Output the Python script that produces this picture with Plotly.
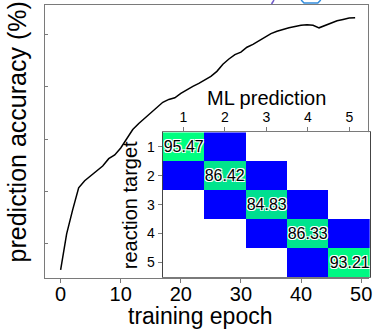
import plotly.graph_objects as go

# ---- data ----
epochs = list(range(50))
accuracy = [0.1, 13.8, 23.0, 31.4, 34.1, 36.0, 37.9, 39.7, 42.5, 43.9,
            46.6, 50.2, 53.6, 55.9, 58.0, 59.8, 61.9, 64.0, 65.1, 65.7,
            67.4, 68.8, 70.1, 71.2, 72.4, 73.9, 75.8, 78.5, 80.5, 82.2,
            83.1, 85.0, 86.1, 87.4, 89.0, 90.2, 91.1, 91.9, 92.4, 92.9,
            93.4, 93.6, 93.4, 92.4, 93.4, 94.4, 95.1, 95.6, 96.1, 96.2]
x_ticks = [0, 10, 20, 30, 40, 50]
y_ticks = [10, 30, 50, 70, 90]

classes = [1, 2, 3, 4, 5]
nan = None
confusion = [
    [95.47, 4.53, nan, nan, nan],
    [6.50, 86.42, 7.08, nan, nan],
    [nan, 7.90, 84.83, 7.27, nan],
    [nan, nan, 6.20, 86.33, 7.47],
    [nan, nan, nan, 6.79, 93.21],
]
labels = [[("%.2f" % v if (i == j and v is not None) else "") for j, v in enumerate(row)]
          for i, row in enumerate(confusion)]

FONT = "Liberation Sans, Arial, Helvetica, sans-serif"
GRAY = "#7a7a7a"

W, H = 377, 329
ML, MR, MT, MB = 45, 0, 5, 51
PW, PH = W - ML - MR, H - MT - MB


def px_x(p):
    return (p - ML) / PW


def px_y(p):
    return (H - MB - p) / PH


fig = go.Figure()

fig.add_trace(go.Scatter(x=epochs, y=accuracy, mode="lines",
                         line=dict(color="black", width=1.5),
                         xaxis="x", yaxis="y", showlegend=False, hoverinfo="skip"))

fig.add_trace(go.Heatmap(
    z=confusion, x=classes, y=classes, text=labels, texttemplate="%{text}",
    textfont=dict(family=FONT, size=16, color="black",
                  shadow="1px 1px 0 white, -1px -1px 0 white, 1px -1px 0 white, -1px 1px 0 white"),
    colorscale=[[0, "rgb(0,0,255)"], [1, "rgb(0,255,128)"]],
    zmin=10, zmax=95.47, showscale=False, xgap=0, ygap=0,
    xaxis="x2", yaxis="y2", hoverinfo="skip"))

fig.update_layout(
    width=W, height=H,
    margin=dict(l=ML, r=MR, t=MT, b=MB, pad=0),
    paper_bgcolor="white", plot_bgcolor="white",
    font=dict(family=FONT, color="black"),
    xaxis=dict(domain=[0, px_x(372.5)], range=[-2.6, 51.07],
               tickvals=x_ticks, ticks="outside", ticklen=4, tickcolor=GRAY,
               tickfont=dict(size=20), ticklabelstandoff=-6, ticklabeloverflow="allow",
               showline=True, linecolor=GRAY, linewidth=1,
               mirror=True, showgrid=False, zeroline=False, anchor="y"),
    yaxis=dict(domain=[0, 1], range=[-3.0, 101.1], tickvals=y_ticks,
               ticks="inside", ticklen=3, tickcolor=GRAY, showticklabels=False,
               showline=True, linecolor=GRAY, linewidth=1, mirror=True,
               showgrid=False, zeroline=False, anchor="x"),
    xaxis2=dict(domain=[px_x(164.5), px_x(375)], range=[0.5, 5.5], side="top",
                tickvals=classes, ticks="outside", ticklen=4, tickcolor=GRAY,
                tickfont=dict(size=14), showline=True, linecolor=GRAY, linewidth=1,
                mirror=True, showgrid=False, zeroline=False, anchor="y2",
                layer="below traces"),
    yaxis2=dict(domain=[px_y(277), px_y(132.3)], range=[5.5, 0.5],
                tickvals=classes, ticks="outside", ticklen=4, tickcolor=GRAY,
                tickfont=dict(size=14), showline=True, linecolor="#444", linewidth=1,
                mirror=True, showgrid=False, zeroline=False, anchor="x2",
                layer="below traces"),
    shapes=[
        dict(type="rect", xref="x2", yref="y2", x0=0.5, x1=5.5, y0=0.5, y1=5.5,
             fillcolor="white", line=dict(width=0), layer="below"),
        dict(type="line", xref="paper", yref="paper",
             x0=px_x(275), y0=px_y(4), x1=px_x(277.5), y1=px_y(0),
             line=dict(color="rgb(110,90,200)", width=1.5)),
        dict(type="path", xref="paper", yref="paper",
             path="M %f,%f L %f,%f L %f,%f L %f,%f" % (
                 px_x(305), px_y(0), px_x(308), px_y(3), px_x(322), px_y(3), px_x(325), px_y(0)),
             line=dict(color="rgb(50,140,220)", width=1.5)),
    ],
    annotations=[
        dict(text="training epoch", xref="paper", yref="paper",
             x=px_x(203), y=px_y(316), xanchor="center", yanchor="middle",
             showarrow=False, font=dict(size=23)),
        dict(text="prediction accuracy (%)", xref="paper", yref="paper",
             x=px_x(17), y=px_y(132), xanchor="center", yanchor="middle",
             textangle=-90, showarrow=False, font=dict(size=25)),
        dict(text="ML prediction", xref="paper", yref="paper",
             x=px_x(269.5), y=px_y(98), xanchor="center", yanchor="middle",
             showarrow=False, font=dict(size=20)),
        dict(text="reaction target", xref="paper", yref="paper",
             x=px_x(131.5), y=px_y(205), xanchor="center", yanchor="middle",
             textangle=-90, showarrow=False, font=dict(size=20)),
    ],
)

fig.write_html("out.html", config={"displayModeBar": False},
               post_script="document.body.style.margin='0px';document.body.style.overflow='hidden';")
